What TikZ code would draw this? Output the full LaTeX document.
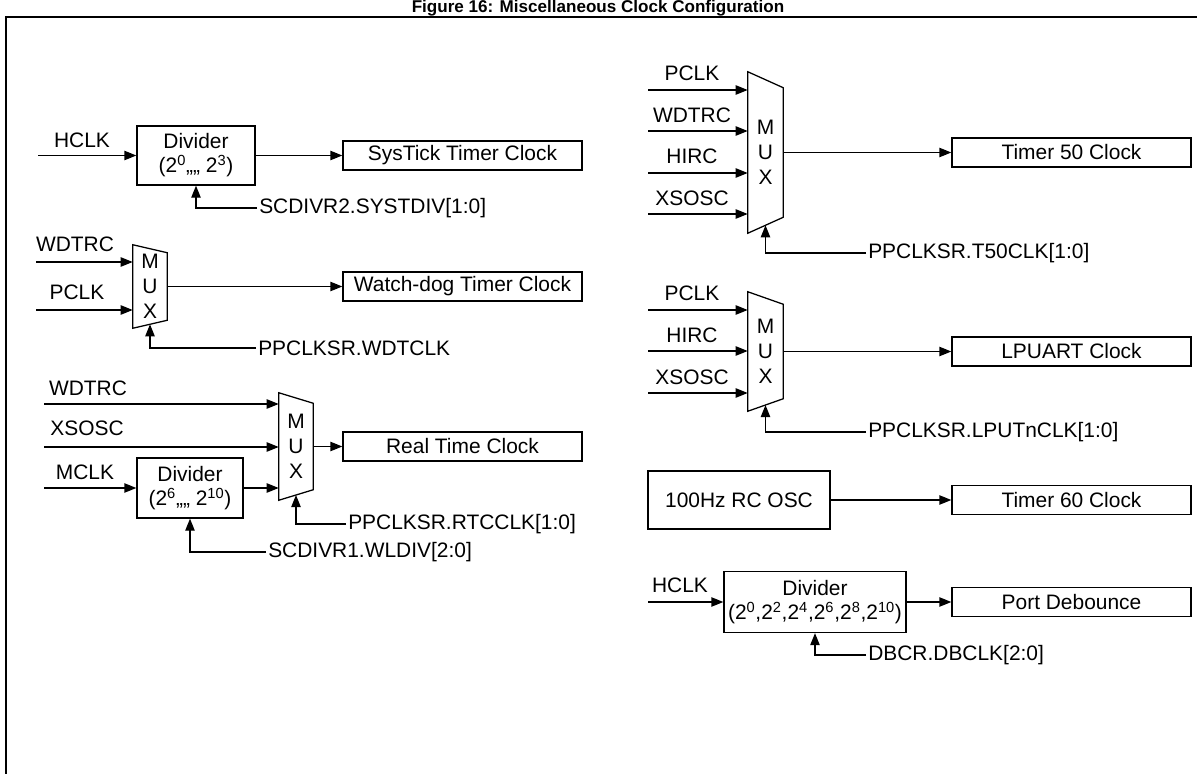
\documentclass[tikz,border=0pt]{standalone}
\usepackage{fontspec}
\setmainfont{Liberation Sans}
\usetikzlibrary{arrows.meta,calc}
\newcommand\drawmux[2]{\draw[ln] (#1.north west) -- ([yshift=-#2]#1.north east) -- ([yshift=#2]#1.south east) -- (#1.south west) -- cycle;}
\begin{document}
\begin{tikzpicture}[x=0.75pt,y=-0.75pt,
  every node/.style={font=\fontsize{15.7}{18}\selectfont, inner sep=0pt},
  ln/.style={line width=0.95pt},
  box/.style={draw, ln, align=center},
  arr/.style={ln, -{Triangle[length=9pt,width=7pt]}},
  muxn/.style={align=center, font=\fontsize{15.7}{18.75}\selectfont},
  ctl/.style={anchor=west, inner sep=1.5pt},
  outbox/.style={box, minimum width=179.25pt, minimum height=21.75pt},
]
\useasboundingbox (0,0) rectangle (1197,774);
% title and frame
\node[font=\bfseries\fontsize{12.8}{15}\selectfont, anchor=base] (title) at (598,13) {Figure 16: Miscellaneous Clock Configuration};
\coordinate (fbl) at (6,790);
\coordinate (ftl) at (6,17);
\coordinate (ftr) at (1197,17);
\draw[line width=1.5pt] (fbl) -- (ftl) -- (ftr);

% ---------- Block 1: SysTick
\coordinate (h1) at (38,155.5);
\node (h1l) at (82,140) {HCLK};
\node[box, minimum width=88.5pt, minimum height=44.25pt] (div1) at (196,155.5) {Divider\\(2\textsuperscript{0},,,, 2\textsuperscript{3})};
\node[outbox] (sys) at (462.5,155.5) {SysTick Timer Clock};
\node[ctl] (c1) at (257,208) {SCDIVR2.SYSTDIV[1:0]};
\draw[arr] (h1) -- (div1.west);
\draw[arr] (div1.east) -- (sys.west);
\draw[arr] (c1.west) -| (div1.south);

% ---------- Block 2: Watch-dog
\node (w2l) at (75,244) {WDTRC};
\coordinate (w2) at (36,262);
\node (p2l) at (77,292) {PCLK};
\coordinate (p2) at (36,310);
\node[muxn, minimum width=25.5pt, minimum height=62.25pt] (m2) at (150,286.5) {M\\U\\X};
\drawmux{m2}{6pt}
\node[outbox] (wd) at (462.5,286.5) {Watch-dog Timer Clock};
\node[ctl] (c2) at (256,348) {PPCLKSR.WDTCLK};
\draw[arr] (w2) -- (w2 -| m2.west);
\draw[arr] (p2) -- (p2 -| m2.west);
\draw[arr] (m2.east) -- (wd.west);
\draw[arr] (c2.west) -| ([yshift=3pt]m2.south);

% ---------- Block 3: RTC
\node (w3l) at (88,388) {WDTRC};
\coordinate (w3) at (44,404);
\node (x3l) at (87,428) {XSOSC};
\coordinate (x3) at (44,447);
\node (mc3l) at (85,472) {MCLK};
\coordinate (mc3) at (44,488);
\node[box, minimum width=79.5pt, minimum height=45pt] (div3) at (190,488) {Divider\\(2\textsuperscript{6},,,, 2\textsuperscript{10})};
\node[muxn, minimum width=25.5pt, minimum height=80.25pt] (m3) at (296,446.5) {M\\U\\X};
\drawmux{m3}{7.9pt}
\node[outbox] (rtc) at (462.5,446.5) {Real Time Clock};
\node[ctl] (c3a) at (346,524) {PPCLKSR.RTCCLK[1:0]};
\node[ctl] (c3b) at (266,552) {SCDIVR1.WLDIV[2:0]};
\draw[arr] (w3) -- (w3 -| m3.west);
\draw[arr] (x3) -- (x3 -| m3.west);
\draw[arr] (mc3) -- (div3.west);
\draw[arr] (div3.east) -- (div3.east -| m3.west);
\draw[arr] (m3.east) -- (rtc.west);
\draw[arr] (c3a.west) -| ([yshift=3.95pt]m3.south);
\draw[arr] (c3b.west) -| (div3.south);

% ---------- Block 5: Timer 50
\node (p5l) at (692,73) {PCLK};
\coordinate (p5) at (648,90);
\node (w5l) at (692,115) {WDTRC};
\coordinate (w5) at (648,131);
\node (h5l) at (692,156) {HIRC};
\coordinate (h5) at (648,173);
\node (x5l) at (692,198) {XSOSC};
\coordinate (x5) at (648,214);
\node[muxn, minimum width=26.25pt, minimum height=120.75pt] (m5) at (765.5,152.5) {M\\U\\X};
\drawmux{m5}{12pt}
\node[outbox] (t50) at (1071.5,152.5) {Timer 50 Clock};
\node[ctl] (c5) at (866,253) {PPCLKSR.T50CLK[1:0]};
\draw[arr] (p5) -- (p5 -| m5.west);
\draw[arr] (w5) -- (w5 -| m5.west);
\draw[arr] (h5) -- (h5 -| m5.west);
\draw[arr] (x5) -- (x5 -| m5.west);
\draw[arr] (m5.east) -- (t50.west);
\draw[arr] (c5.west) -| ([yshift=6pt]m5.south);

% ---------- Block 6: LPUART
\node (p6l) at (692,293) {PCLK};
\coordinate (p6) at (648,310);
\node (h6l) at (692,335) {HIRC};
\coordinate (h6) at (648,351);
\node (x6l) at (692,377) {XSOSC};
\coordinate (x6) at (648,393);
\node[muxn, minimum width=26.25pt, minimum height=89.25pt] (m6) at (765.5,351.5) {M\\U\\X};
\drawmux{m6}{9.4pt}
\node[outbox] (lpu) at (1071.5,351.5) {LPUART Clock};
\node[ctl] (c6) at (866,432) {PPCLKSR.LPUTnCLK[1:0]};
\draw[arr] (p6) -- (p6 -| m6.west);
\draw[arr] (h6) -- (h6 -| m6.west);
\draw[arr] (x6) -- (x6 -| m6.west);
\draw[arr] (m6.east) -- (lpu.west);
\draw[arr] (c6.west) -| ([yshift=4.7pt]m6.south);

% ---------- Block 7: Timer 60
\node[box, minimum width=136.5pt, minimum height=43.5pt] (osc) at (739,500) {100Hz RC OSC};
\node[outbox] (t60) at (1071.5,500) {Timer 60 Clock};
\draw[arr] (osc.east) -- (t60.west);

% ---------- Block 8: Port Debounce
\node (h8l) at (680,585) {HCLK};
\coordinate (h8) at (648,602);
\node[box, minimum width=136.5pt, minimum height=45.75pt] (div8) at (815,602) {Divider\\(2\textsuperscript{0},2\textsuperscript{2},2\textsuperscript{4},2\textsuperscript{6},2\textsuperscript{8},2\textsuperscript{10})};
\node[outbox] (pd) at (1071.5,602) {Port Debounce};
\node[ctl] (c8) at (866,655) {DBCR.DBCLK[2:0]};
\draw[arr] (h8) -- (div8.west);
\draw[arr] (div8.east) -- (pd.west);
\draw[arr] (c8.west) -| (div8.south);
\end{tikzpicture}
\end{document}
